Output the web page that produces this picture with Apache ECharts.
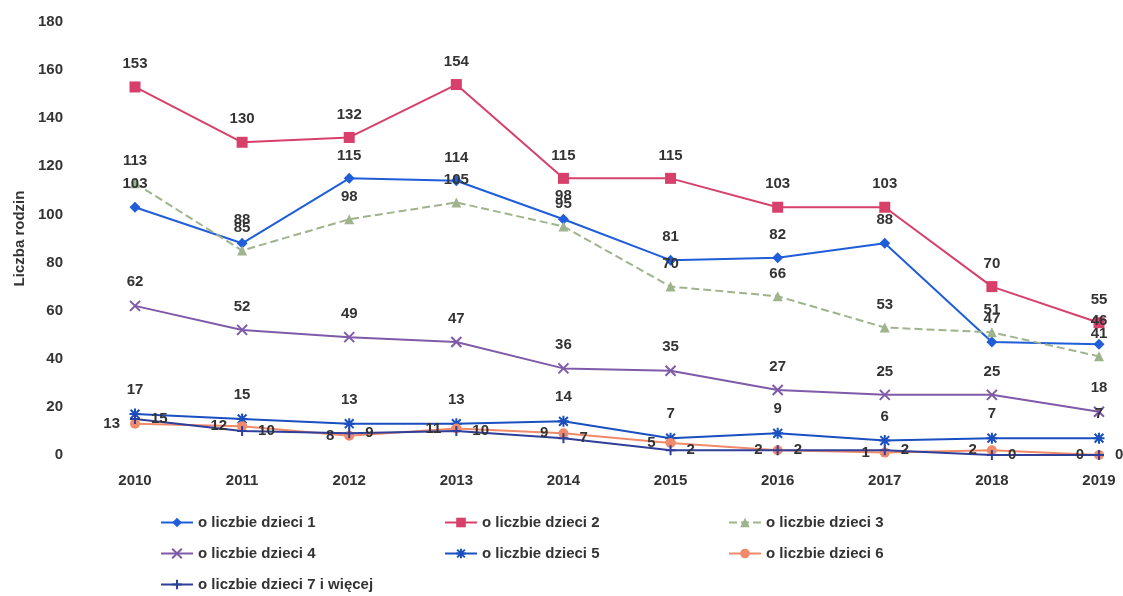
<!DOCTYPE html>
<html lang="pl">
<head>
<meta charset="utf-8">
<script src="https://cdn.jsdelivr.net/npm/echarts@6/dist/echarts.min.js"></script>
<style>
  html, body { margin: 0; padding: 0; background: #fff; }
  #main { width: 1123px; height: 596px; }
</style>
</head>
<body>
<div id="main"></div>
<script>
// lata i dane
var years = ['2010', '2011', '2012', '2013', '2014', '2015', '2016', '2017', '2018', '2019'];
var dzieci1 = [103, 88, 115, 114, 98, 81, 82, 88, 47, 46];
var dzieci2 = [153, 130, 132, 154, 115, 115, 103, 103, 70, 55];
var dzieci3 = [113, 85, 98, 105, 95, 70, 66, 53, 51, 41];
var dzieci4 = [62, 52, 49, 47, 36, 35, 27, 25, 25, 18];
var dzieci5 = [17, 15, 13, 13, 14, 7, 9, 6, 7, 7];
var dzieci6 = [13, 12, 8, 11, 9, 5, 2, 1, 2, 0];
var dzieci7 = [15, 10, 9, 10, 7, 2, 2, 2, 0, 0];
var names = ['o liczbie dzieci 1', 'o liczbie dzieci 2', 'o liczbie dzieci 3',
  'o liczbie dzieci 4', 'o liczbie dzieci 5', 'o liczbie dzieci 6', 'o liczbie dzieci 7 i więcej'];

var font = 'Liberation Sans, Arial, sans-serif';
var txt = '#333';

function lbl(pos) {
  return { show: true, position: pos, distance: 10, color: txt, fontFamily: font, fontSize: 15, fontWeight: 'bold' };
}

function mk(name, data, color, symbol, size, pos, lineType) {
  var stroke = symbol.indexOf('path://') === 0;
  return {
    name: name, type: 'line', data: data, symbol: symbol, symbolSize: size,
    lineStyle: { color: color, width: 2, type: lineType || 'solid' },
    itemStyle: stroke ? { color: color, borderColor: color, borderWidth: 2 } : { color: color },
    label: lbl(pos)
  };
}

var chart = echarts.init(document.getElementById('main'));
chart.setOption({
  animation: false,
  grid: { left: 135, right: 24, top: 22, bottom: 141 },
  legend: {
    left: 155, top: 502, width: 870, itemGap: 0, itemWidth: 32, itemHeight: 12,
    data: names,
    textStyle: { color: txt, fontFamily: font, fontSize: 15, fontWeight: 'bold', width: 246, lineHeight: 31 }
  },
  xAxis: {
    type: 'category', data: years, boundaryGap: false,
    axisLine: { show: false }, axisTick: { show: false },
    axisLabel: { color: txt, fontFamily: font, fontSize: 15, fontWeight: 'bold', margin: 18 }
  },
  yAxis: {
    type: 'value', min: 0, max: 180, interval: 20,
    name: 'Liczba rodzin', nameLocation: 'middle', nameGap: 108, nameRotate: 90,
    nameTextStyle: { color: txt, fontFamily: font, fontSize: 15, fontWeight: 'bold' },
    axisLine: { show: false }, axisTick: { show: false }, splitLine: { show: false },
    axisLabel: { color: txt, fontFamily: font, fontSize: 15, fontWeight: 'bold', margin: 72 }
  },
  series: [
    mk(names[0], dzieci1, '#1f5ed8', 'diamond', 11, 'top'),
    mk(names[1], dzieci2, '#d7406a', 'rect', 11, 'top'),
    mk(names[2], dzieci3, '#9fb38c', 'triangle', 10, 'top', 'dashed'),
    mk(names[3], dzieci4, '#7e5aa8', 'path://M0,0L10,10M10,0L0,10', 10, 'top'),
    mk(names[4], dzieci5, '#1a4fc0', 'path://M5,0L5,10M0,5L10,5M1,1L9,9M9,1L1,9', 11, 'top'),
    mk(names[5], dzieci6, '#f08a6a', 'circle', 10, 'left'),
    mk(names[6], dzieci7, '#2f3f9a', 'path://M5,0L5,10M0,5L10,5', 10, 'right')
  ]
});
</script>
</body>
</html>
